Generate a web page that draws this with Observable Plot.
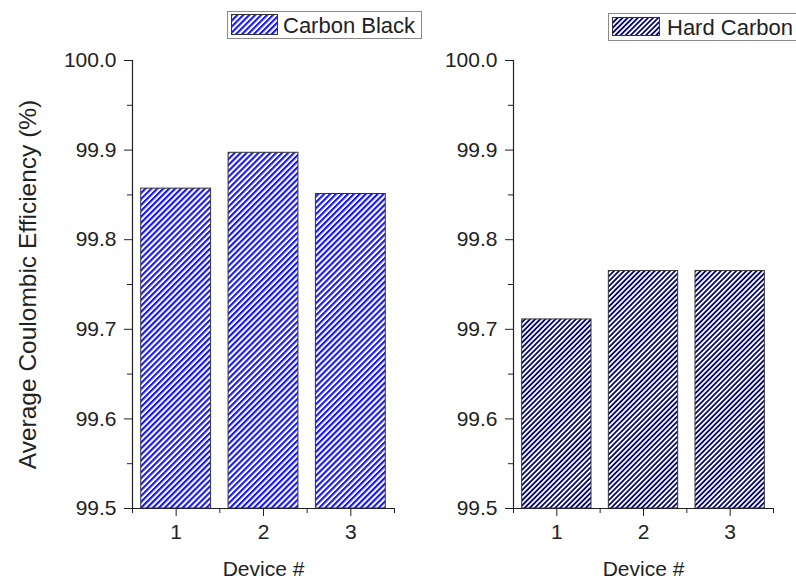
<!DOCTYPE html>
<html><head><meta charset="utf-8">
<script src="https://cdn.jsdelivr.net/npm/d3@7"></script>
<script src="https://cdn.jsdelivr.net/npm/@observablehq/plot@0.6"></script>
<style>
body{margin:0;background:#fff;}
#wrap{position:relative;width:796px;height:582px;font-family:"Liberation Sans",Arial,sans-serif;overflow:hidden;}
.panel{position:absolute;top:0;}
.legend{position:absolute;border:1px solid #8a8a8a;background:#fff;font-size:22px;color:#222;box-sizing:border-box;}
.legend svg{position:absolute;}
.legend span{position:absolute;line-height:1;white-space:nowrap;}
</style></head><body><div id="wrap"></div>
<script>
const devices = [1, 2, 3];
const carbonBlack = [99.857, 99.897, 99.851];
const hardCarbon = [99.711, 99.765, 99.765];
const yTicks = [99.5, 99.6, 99.7, 99.8, 99.9, 100.0];
const yMinor = [99.55, 99.65, 99.75, 99.85, 99.95];
const xMinor = [0.5, 1.5, 2.5, 3.5];
const seriesNames = ["Carbon Black", "Hard Carbon"];
const xTitle = "Device #";
const yTitle = "Average Coulombic Efficiency (%)";

function addPattern(defs, id, color, period, lw) {
  const p = defs.append("pattern").attr("id", id).attr("patternUnits", "userSpaceOnUse")
    .attr("width", period).attr("height", period * 4).attr("patternTransform", "rotate(45)");
  p.append("rect").attr("width", period).attr("height", period * 4).attr("fill", "white");
  p.append("rect").attr("width", lw).attr("height", period * 4).attr("fill", color);
}
function patternMark(id, color, period, lw) {
  return () => {
    const defs = d3.create("svg:defs");
    addPattern(defs, id, color, period, lw);
    return defs.node();
  };
}

function panel({values, id, color, period, lw, width, marginLeft, marginRight, showYTitle}) {
  const data = devices.map((d, i) => ({device: d, value: values[i]}));
  const marks = [
    patternMark(id, color, period, lw),
    Plot.rect(data, {x1: d => d.device - 0.4, x2: d => d.device + 0.4, y1: 99.5, y2: "value",
      fill: `url(#${id})`, stroke: "#333", strokeWidth: 1}),
    Plot.axisY({ticks: yMinor, tickSize: 5, tickFormat: () => "", label: null}),
    Plot.axisY({ticks: yTicks, tickSize: 8, tickPadding: 8, tickFormat: d3.format(".1f"), label: null, fontSize: 21}),
    Plot.axisX({ticks: xMinor, tickSize: 5, tickFormat: () => "", label: null}),
    Plot.axisX({ticks: devices, tickSize: 8, tickPadding: 8, tickFormat: d => String(d), label: null, fontSize: 21}),
    Plot.ruleX([0.5], {y1: 99.5, y2: 100, stroke: "#222", strokeWidth: 1.2}),
    Plot.ruleY([99.5], {x1: 0.5, x2: 3.5, stroke: "#222", strokeWidth: 1.2}),
    Plot.text([xTitle], {frameAnchor: "bottom", dy: 61, fontSize: 21, lineAnchor: "middle", fill: "#222"})
  ];
  if (showYTitle) {
    marks.push(Plot.text([yTitle], {frameAnchor: "left", dx: -104, rotate: -90, fontSize: 24.5, lineAnchor: "middle", textAnchor: "middle", fill: "#222"}));
  }
  return Plot.plot({
    width, height: 582, marginTop: 60, marginBottom: 74, marginLeft, marginRight,
    style: {fontFamily: "Liberation Sans, Arial, sans-serif", fontSize: "21px", color: "#222", background: "transparent", overflow: "visible"},
    x: {domain: [0.5, 3.5]},
    y: {domain: [99.5, 100]},
    marks
  });
}

const wrap = document.getElementById("wrap");
const p1 = panel({values: carbonBlack, id: "patCB", color: "#1414f5", period: 4.2, lw: 2.1, width: 400, marginLeft: 132, marginRight: 6, showYTitle: true});
p1.classList.add("panel"); p1.style.left = "0px";
wrap.appendChild(p1);
const p2 = panel({values: hardCarbon, id: "patHC", color: "#05057a", period: 3.6, lw: 1.8, width: 396, marginLeft: 113, marginRight: 23, showYTitle: false});
p2.classList.add("panel"); p2.style.left = "400px";
wrap.appendChild(p2);

function legend(name, id, color, period, lw, box, sw, textX) {
  const div = document.createElement("div");
  div.className = "legend";
  Object.assign(div.style, {left: box[0] + "px", top: box[1] + "px", width: box[2] + "px", height: box[3] + "px"});
  const svg = d3.create("svg").attr("width", sw[2]).attr("height", sw[3])
    .style("left", (sw[0] - box[0] - 1) + "px").style("top", (sw[1] - box[1] - 1) + "px");
  addPattern(svg.append("defs"), id, color, period, lw);
  svg.append("rect").attr("x", 0.5).attr("y", 0.5).attr("width", sw[2] - 1).attr("height", sw[3] - 1)
    .attr("fill", `url(#${id})`).attr("stroke", "#333");
  div.appendChild(svg.node());
  const span = document.createElement("span");
  span.textContent = name;
  span.style.left = (textX - box[0] - 1) + "px";
  span.style.top = ((box[3] - 2 - 22) / 2 + 1) + "px";
  div.appendChild(span);
  wrap.appendChild(div);
}
legend(seriesNames[0], "legCB", "#1414f5", 4.2, 2.1, [227, 11, 195, 28], [231, 14, 47, 21], 283);
legend(seriesNames[1], "legHC", "#05057a", 3.6, 1.8, [608, 13, 190, 28], [612, 17, 48, 19], 667);
</script></body></html>
